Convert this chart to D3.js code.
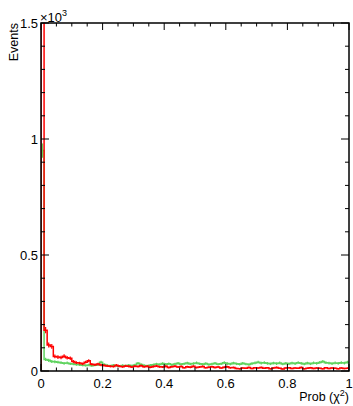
<!DOCTYPE html>
<html>
<head>
<meta charset="utf-8">
<script src="https://cdn.jsdelivr.net/npm/d3@7"></script>
<style>
  html, body { margin: 0; padding: 0; background: #fff; }
  svg { display: block; }
  text { font-family: "Liberation Sans", Arial, sans-serif; fill: #000; }
</style>
</head>
<body>
<svg id="chart" width="353" height="406"></svg>
<script>
// Histogram of fit probability, 100 bins on [0, 1]
const binEdges = [0, 1];
const nBins = 100;

// Red sample (first bin runs far off scale)
const redCounts = [
  2300, 176, 112, 106, 63, 60, 58, 64, 57, 55,
  41, 36, 34, 31, 38, 44, 29, 27, 30, 26,
  24, 22, 20, 19, 25, 21, 18, 22, 20, 17,
  21, 19, 23, 18, 20, 16, 19, 22, 18, 17,
  20, 15, 18, 21, 17, 19, 14, 18, 16, 20,
  15, 17, 19, 14, 16, 18, 15, 17, 13, 16,
  18, 14, 15, 11, 10, 13, 12, 15, 11, 14,
  13, 15, 12, 14, 10, 13, 15, 12, 9, 13,
  14, 11, 13, 12, 15, 10, 12, 14, 11, 13,
  12, 10, 14, 11, 13, 12, 10, 13, 11, 12
];

// Green sample
const greenCounts = [
  950, 50, 46, 41, 40, 38, 36, 33, 35, 31,
  30, 28, 27, 25, 24, 26, 23, 25, 27, 38,
  28, 24, 22, 25, 23, 21, 24, 22, 25, 23,
  26, 33, 28, 24, 22, 25, 27, 30, 28, 32,
  29, 31, 27, 30, 33, 29, 31, 34, 30, 32,
  35, 31, 29, 32, 28, 30, 33, 29, 31, 36,
  32, 30, 34, 31, 29, 33, 30, 28, 32, 35,
  38, 34, 36, 33, 31, 34, 32, 35, 30, 33,
  31, 34, 32, 36, 33, 30, 34, 31, 35, 33,
  37, 41, 36, 34, 32, 35, 33, 36, 34, 38
];

const xTicks = [0, 0.2, 0.4, 0.6, 0.8, 1];
const xTickLabels = ["0", "0.2", "0.4", "0.6", "0.8", "1"];
const yTicks = [0, 500, 1000, 1500];
const yTickLabels = ["0", "0.5", "1", "1.5"];

const frame = { left: 41, right: 349, top: 23, bottom: 371 };

const svg = d3.select("#chart");
const x = d3.scaleLinear().domain(binEdges).range([frame.left, frame.right]);
const y = d3.scaleLinear().domain([0, 1500]).range([frame.bottom, frame.top]);
const binW = (binEdges[1] - binEdges[0]) / nBins;

svg.append("defs").append("clipPath").attr("id", "frameClip")
  .append("rect")
  .attr("x", frame.left).attr("y", frame.top)
  .attr("width", frame.right - frame.left).attr("height", frame.bottom - frame.top);

function drawHist(counts, color) {
  const g = svg.append("g").attr("clip-path", "url(#frameClip)");
  // step outline
  const pts = [[x(0), y(0)]];
  counts.forEach((c, i) => {
    pts.push([x(i * binW), y(c)]);
    pts.push([x((i + 1) * binW), y(c)]);
  });
  pts.push([x(1), y(0)]);
  g.append("path")
    .attr("d", d3.line()(pts))
    .attr("fill", "none")
    .attr("stroke", color)
    .attr("stroke-width", 1.5);
  // statistical error bars
  g.selectAll("line.err")
    .data(counts)
    .join("line")
    .attr("x1", (d, i) => x((i + 0.5) * binW))
    .attr("x2", (d, i) => x((i + 0.5) * binW))
    .attr("y1", d => y(d - Math.sqrt(d)))
    .attr("y2", d => y(d + Math.sqrt(d)))
    .attr("stroke", color)
    .attr("stroke-width", 1.2);
}

drawHist(greenCounts, "#5fd35f");
drawHist(redCounts, "#ff0000");

// frame
svg.append("rect")
  .attr("x", frame.left).attr("y", frame.top)
  .attr("width", frame.right - frame.left).attr("height", frame.bottom - frame.top)
  .attr("fill", "none").attr("stroke", "#000").attr("stroke-width", 1.5);

const tickG = svg.append("g").attr("stroke", "#000").attr("stroke-width", 1);

// x ticks (bottom and top), minor every 0.05
d3.range(0, 21).forEach(k => {
  const v = k * 0.05;
  const major = k % 4 === 0;
  const len = major ? 7 : 3.5;
  const px = x(v);
  tickG.append("line").attr("x1", px).attr("x2", px)
    .attr("y1", frame.bottom).attr("y2", frame.bottom - len);
  tickG.append("line").attr("x1", px).attr("x2", px)
    .attr("y1", frame.top).attr("y2", frame.top + len);
});

// y ticks (left and right), minor every 100
d3.range(0, 16).forEach(k => {
  const v = k * 100;
  const major = k % 5 === 0;
  const len = major ? 8 : 4;
  const py = y(v);
  tickG.append("line").attr("y1", py).attr("y2", py)
    .attr("x1", frame.left).attr("x2", frame.left + len);
  tickG.append("line").attr("y1", py).attr("y2", py)
    .attr("x1", frame.right).attr("x2", frame.right - len);
});

// tick labels
svg.selectAll("text.xl")
  .data(xTicks)
  .join("text")
  .attr("x", d => x(d))
  .attr("y", 388)
  .attr("text-anchor", "middle")
  .attr("font-size", 13)
  .text((d, i) => xTickLabels[i]);

svg.selectAll("text.yl")
  .data(yTicks)
  .join("text")
  .attr("x", 38)
  .attr("y", d => y(d) + 5)
  .attr("text-anchor", "end")
  .attr("font-size", 13)
  .text((d, i) => yTickLabels[i]);

// exponent
const expo = svg.append("text").attr("x", 40).attr("y", 22).attr("font-size", 13);
expo.append("tspan").text("\u00d710");
expo.append("tspan").attr("font-size", 9).attr("dy", -6).text("3");

// axis titles
const xt = svg.append("text")
  .attr("x", 349).attr("y", 401)
  .attr("text-anchor", "end").attr("font-size", 12.5);
xt.append("tspan").text("Prob (\u03c7");
xt.append("tspan").attr("font-size", 9).attr("dy", -5).text("2");
xt.append("tspan").attr("dy", 5).text(")");

svg.append("text")
  .attr("transform", "translate(18,23) rotate(-90)")
  .attr("text-anchor", "end")
  .attr("font-size", 12.5)
  .text("Events");
</script>
</body>
</html>
